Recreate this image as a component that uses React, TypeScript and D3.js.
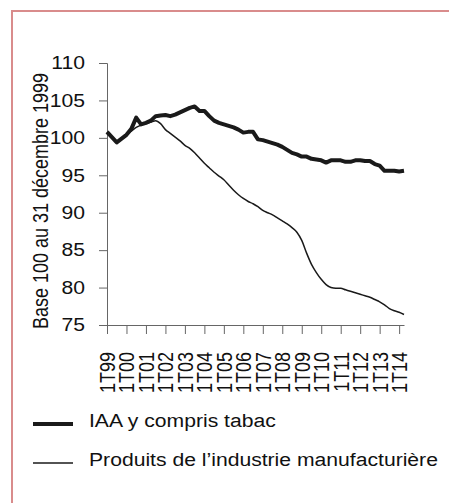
import React, {useEffect, useRef} from 'react';
import * as d3 from 'd3';

// quarterly, 1T99 .. 2T14
const years = ['99', '00', '01', '02', '03', '04', '05', '06', '07', '08', '09', '10', '11', '12', '13', '14'];
const tickLabels = years.map((y) => '1T' + y);

const iaa = [
  100.8, 100.1, 99.4, 99.9, 100.4, 101.2, 102.7, 101.8, 102.0, 102.3,
  102.9, 103.0, 103.05, 102.9, 103.1, 103.4, 103.7, 104.0, 104.2, 103.6,
  103.6, 102.9, 102.3, 102.0, 101.8, 101.6, 101.4, 101.1, 100.7, 100.8,
  100.8, 99.8, 99.7, 99.5, 99.3, 99.1, 98.8, 98.4, 98.0, 97.8,
  97.5, 97.5, 97.2, 97.1, 97.0, 96.7, 97.0, 97.0, 97.0, 96.8,
  96.8, 97.0, 97.0, 96.9, 96.9, 96.5, 96.3, 95.6, 95.6, 95.6,
  95.5, 95.6,
];

const manuf = [
  100.6, 100.0, 99.5, 99.9, 100.5, 100.9, 101.4, 101.7, 101.9, 102.1,
  102.3, 101.9, 101.1, 100.6, 100.1, 99.6, 99.0, 98.6, 98.0, 97.3,
  96.6, 96.0, 95.4, 94.9, 94.4, 93.7, 93.0, 92.4, 91.9, 91.5,
  91.2, 90.8, 90.3, 90.0, 89.7, 89.3, 88.9, 88.5, 88.0, 87.4,
  86.3, 84.6, 83.1, 82.0, 81.1, 80.4, 80.0, 79.9, 79.9, 79.7,
  79.5, 79.3, 79.1, 78.9, 78.7, 78.4, 78.1, 77.7, 77.2, 76.9,
  76.7, 76.4,
];

const yTicks = [75, 80, 85, 90, 95, 100, 105, 110];
const legendNames = ['IAA y compris tabac', 'Produits de l\u2019industrie manufacturière'];

const W = 449;
const H = 503;
const font = 'Liberation Sans, Arial, sans-serif';
const sx = 1.175; // the original text is a bit wider than it is tall

export default function App() {
  const ref = useRef<SVGSVGElement>(null);

  useEffect(() => {
    const svg = d3.select(ref.current);
    svg.selectAll('*').remove();

    const x = d3.scaleLinear().domain([0, iaa.length - 1]).range([107, 404]);
    const y = d3.scaleLinear().domain([75, 110]).range([325, 63]);

    // frame
    svg.append('path')
        .attr('d', `M12,${H} L12,11 L${W},11`)
        .attr('fill', 'none')
        .attr('stroke', '#d98c8c')
        .attr('stroke-width', 2);

    // y axis
    const gy = svg.append('g')
        .attr('transform', 'translate(107,0)')
        .call(d3.axisLeft(y).tickValues(yTicks).tickSize(8));
    gy.select('.domain').attr('stroke', '#666');
    gy.selectAll('.tick line').attr('stroke', '#666');
    gy.selectAll('.tick text')
        .attr('font-family', font)
        .attr('font-size', 18)
        .attr('fill', '#111')
        .attr('x', -22 / sx)
        .attr('transform', `scale(${sx},1)`);

    // x axis
    const gx = svg.append('g')
        .attr('transform', 'translate(0,325)')
        .call(d3.axisBottom(x)
            .tickValues(tickLabels.map((d, i) => i * 4))
            .tickFormat((d, i) => tickLabels[i])
            .tickSize(9)
            .tickSizeOuter(0));
    gx.select('.domain').attr('stroke', '#666');
    gx.selectAll('.tick line').attr('stroke', '#666');
    gx.selectAll('.tick text')
        .attr('font-family', font)
        .attr('font-size', 18)
        .attr('fill', '#111')
        .attr('text-anchor', 'end')
        .attr('transform', `translate(0,27) scale(${sx},1) rotate(-90)`)
        .attr('x', 0)
        .attr('y', 0)
        .attr('dy', '0.35em');

    // y title
    svg.append('text')
        .attr('transform', `translate(48,201) scale(${sx},1) rotate(-90)`)
        .attr('text-anchor', 'middle')
        .attr('font-family', font)
        .attr('font-size', 18)
        .attr('fill', '#111')
        .text('Base 100 au 31 décembre 1999');

    const line = d3.line<number>()
        .x((d, i) => x(i))
        .y((d) => y(d));

    svg.append('path')
        .datum(manuf)
        .attr('d', line.curve(d3.curveMonotoneX))
        .attr('fill', 'none')
        .attr('stroke', '#1a1a1a')
        .attr('stroke-width', 1.5);

    svg.append('path')
        .datum(iaa)
        .attr('d', d3.line<number>().x((d, i) => x(i)).y((d) => y(d)))
        .attr('fill', 'none')
        .attr('stroke', '#1a1a1a')
        .attr('stroke-width', 4)
        .attr('stroke-linejoin', 'round');

    // legend
    const widths = [4, 1.5];
    const rows = svg.selectAll('g.legend')
        .data(legendNames)
        .enter()
        .append('g')
        .attr('class', 'legend')
        .attr('transform', (d, i) => `translate(0,${424 + i * 39})`);
    rows.append('line')
        .attr('x1', 33).attr('x2', 73)
        .attr('stroke', '#1a1a1a')
        .attr('stroke-width', (d, i) => widths[i]);
    rows.append('text')
        .attr('transform', `translate(89,3) scale(${sx},1)`)
        .attr('font-family', font)
        .attr('font-size', 18)
        .attr('fill', '#111')
        .text((d) => d);
  }, []);

  return (
    <svg ref={ref} width={W} height={H}
      style={{position: 'absolute', left: 0, top: 0, background: '#fff'}}/>
  );
}
